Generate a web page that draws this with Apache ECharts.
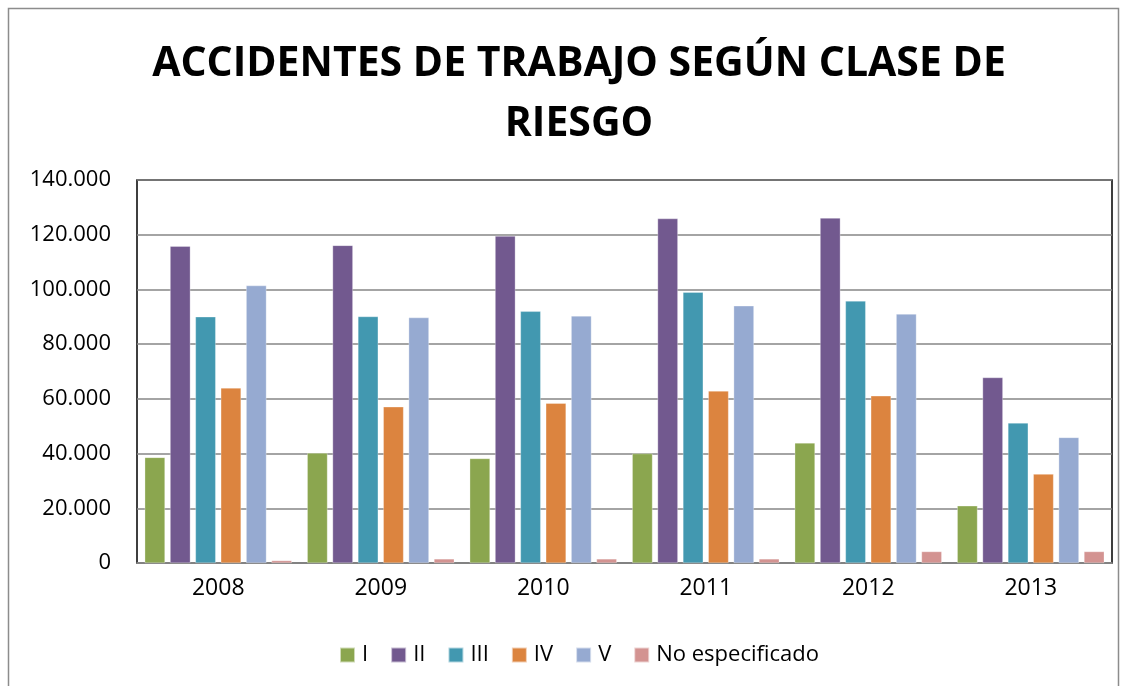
<!DOCTYPE html>
<html>
<head>
<meta charset="utf-8">
<script src="https://cdn.jsdelivr.net/npm/echarts@6/dist/echarts.min.js"></script>
<style>
  html, body { margin: 0; padding: 0; background: #fff; }
  #chart { width: 1127px; height: 686px; }
</style>
</head>
<body>
<div id="chart"></div>
<script>
// data
const years = ['2008', '2009', '2010', '2011', '2012', '2013']
const claseI = [38600, 40200, 38200, 40000, 43900, 20900]
const claseII = [115800, 116100, 119500, 125900, 126100, 67800]
const claseIII = [90000, 90100, 92000, 99000, 95800, 51200]
const claseIV = [64000, 57100, 58400, 62900, 61100, 32500]
const claseV = [101400, 89700, 90300, 94000, 91000, 45900]
const noEspecificado = [900, 1500, 1500, 1500, 4200, 4200]
const seriesNames = ['I', 'II', 'III', 'IV', 'V', 'No especificado']
const colors = ['#8BA64F', '#72598F', '#4298B0', '#DC843F', '#96AAD1', '#D39391']

const font = '"Open Sans", "Noto Sans", sans-serif'
const fmt = v => v === 0 ? '0' : v.toString().replace(/\B(?=(\d{3})+(?!\d))/g, '.')

const chart = echarts.init(document.getElementById('chart'))
const allData = [claseI, claseII, claseIII, claseIV, claseV, noEspecificado]

chart.setOption({
  animation: false,
  color: colors,
  textStyle: { fontFamily: font },
  title: {
    text: 'ACCIDENTES DE TRABAJO SEGÚN CLASE DE\nRIESGO',
    left: 574,
    textAlign: 'center',
    top: 29,
    textStyle: { fontSize: 41, fontWeight: 'bold', color: '#000', lineHeight: 60, fontFamily: font }
  },
  graphic: [{
    type: 'rect',
    shape: { x: 8.5, y: 8.5, width: 1110, height: 700 },
    style: { fill: 'none', stroke: '#8c8c8c', lineWidth: 1.5 },
    silent: true
  }],
  legend: {
    bottom: 15,
    left: 334,
    itemWidth: 15,
    itemHeight: 15,
    itemGap: 22,
    icon: 'rect',
    textStyle: { fontSize: 22, color: '#000', fontFamily: font, padding: [0, 0, 0, 2] },
    data: seriesNames
  },
  grid: {
    left: 137,
    right: 15,
    top: 180,
    bottom: 123,
    show: true,
    borderColor: '#000',
    borderWidth: 1.5
  },
  xAxis: {
    type: 'category',
    data: years,
    axisLine: { lineStyle: { color: '#868686', width: 1.5 } },
    axisTick: { show: false },
    axisLabel: { fontSize: 23, color: '#000', margin: 14, fontFamily: font }
  },
  yAxis: {
    type: 'value',
    min: 0,
    max: 140000,
    interval: 20000,
    axisLine: { show: false },
    axisTick: { show: false },
    splitLine: { lineStyle: { color: '#868686', width: 1.5 } },
    axisLabel: { fontSize: 22, color: '#000', margin: 26, formatter: fmt, fontFamily: font }
  },
  series: seriesNames.map((name, i) => ({
    name: name,
    type: 'bar',
    data: allData[i],
    barGap: '25%',
    barCategoryGap: '9.5%',
    itemStyle: { borderColor: 'rgba(255,255,255,0.6)', borderWidth: 0.5 }
  }))
})
</script>
</body>
</html>
